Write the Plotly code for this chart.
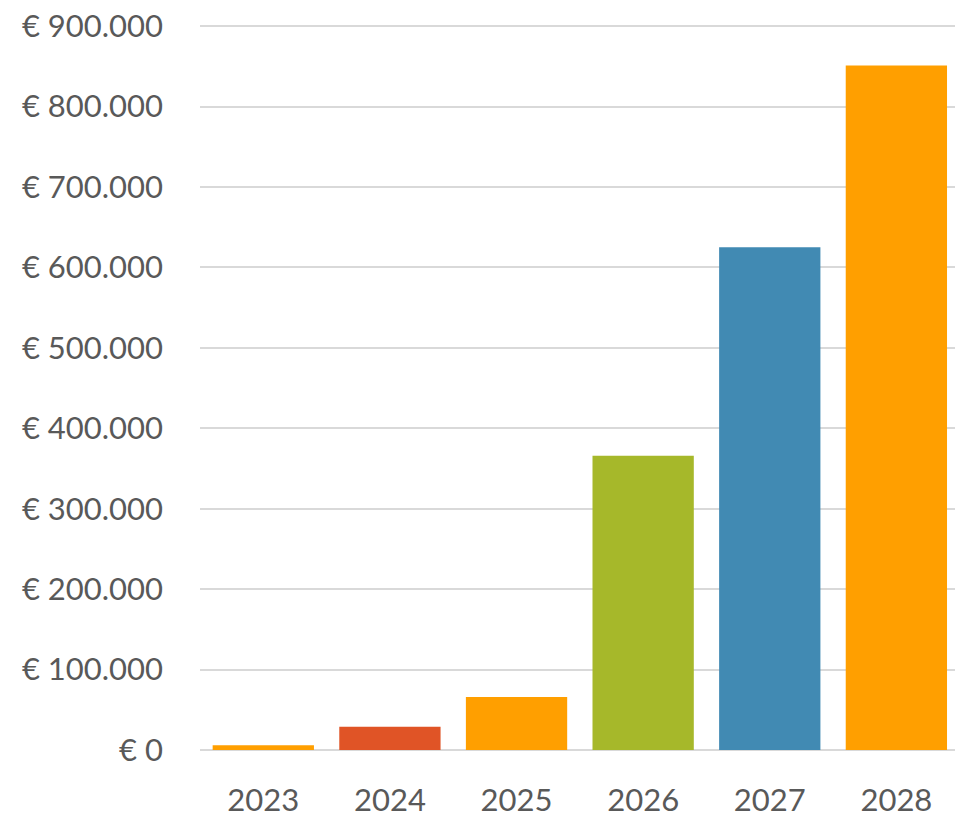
import plotly.graph_objects as go

years = ["2023", "2024", "2025", "2026", "2027", "2028"]
values = [6000, 29000, 66000, 366000, 625000, 851000]
colors = ["#FF9F00", "#E05426", "#FF9F00", "#A6B82A", "#418AB3", "#FF9F00"]
y_ticks = [0, 100000, 200000, 300000, 400000, 500000, 600000, 700000, 800000, 900000]
y_tick_text = ["€ 0", "€ 100.000", "€ 200.000", "€ 300.000", "€ 400.000",
               "€ 500.000", "€ 600.000", "€ 700.000", "€ 800.000", "€ 900.000"]

fig = go.Figure(go.Bar(x=years, y=values, marker=dict(color=colors, line=dict(width=0)),
                       width=0.8))

font_family = "Lato, 'Open Sans', sans-serif"
fig.update_layout(
    width=955, height=818,
    margin=dict(l=200, r=0, t=25, b=68, autoexpand=False),
    plot_bgcolor="white", paper_bgcolor="white",
    bargap=0.2,
    showlegend=False,
    font=dict(family=font_family, size=31, color="#595959"),
)
fig.update_yaxes(
    range=[0, 901500], tickvals=y_ticks, ticktext=y_tick_text,
    showgrid=True, gridcolor="#D9D9D9", gridwidth=2,
    zeroline=True, zerolinecolor="#D9D9D9", zerolinewidth=2,
    ticklabelstandoff=36, showline=False, automargin=False,
)
fig.update_xaxes(
    range=[-0.5, 5.463],
    showgrid=False, showline=False, ticks="", ticklabelstandoff=29, automargin=False,
)
fig.write_html("out.html", config={"displayModeBar": False},
               post_script="document.body.style.margin='0';")
